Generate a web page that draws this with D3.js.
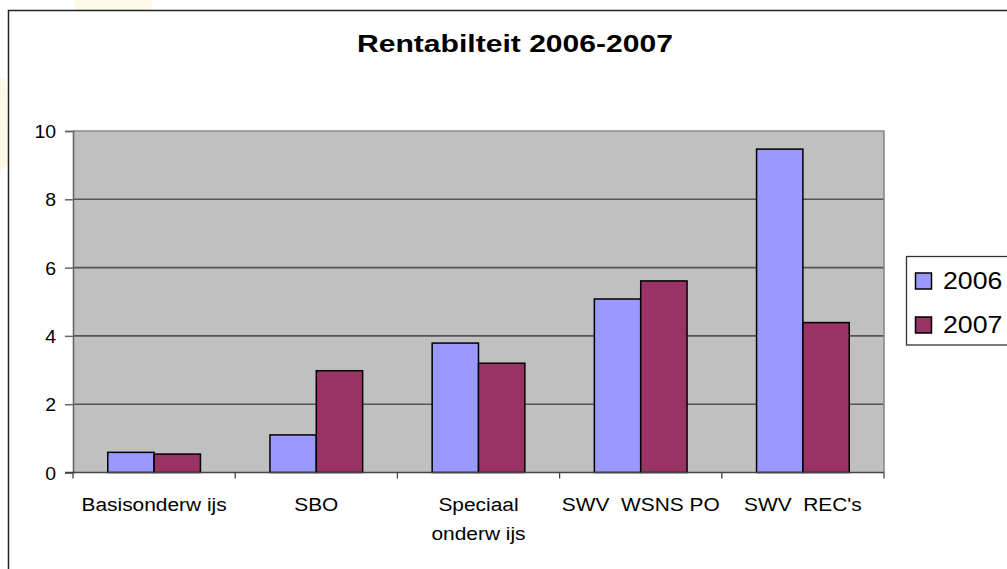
<!DOCTYPE html>
<html>
<head>
<meta charset="utf-8">
<script src="https://cdn.jsdelivr.net/npm/d3@7"></script>
<style>
  html, body { margin: 0; padding: 0; background: #fff; }
  svg { display: block; font-family: "Liberation Sans", Arial, sans-serif; }
</style>
</head>
<body>
<svg id="chart" width="1007" height="569"></svg>
<script>
const categories = ["Basisonderw ijs", "SBO", "Speciaal|onderw ijs", "SWV  WSNS PO", "SWV  REC's"];
const seriesNames = ["2006", "2007"];
const values2006 = [0.59, 1.1, 3.79, 5.08, 9.47];
const values2007 = [0.54, 2.98, 3.2, 5.61, 4.39];
const yTicks = [0, 2, 4, 6, 8, 10];
const title = "Rentabilteit 2006-2007";

const colors = { "2006": "#9999ff", "2007": "#993366" };
const seriesValues = { "2006": values2006, "2007": values2007 };

const svg = d3.select("#chart");

// faint background decorations outside the chart frame
svg.append("path").attr("d", "M73,0 L153,0 L150,11 L76,11 Z").attr("fill", "#fdf9e6");
svg.append("path").attr("d", "M0,78 L6,80 L9,165 L0,170 Z").attr("fill", "#fdf9e6");

// chart frame
svg.append("rect")
  .attr("x", 8.5).attr("y", 10.5).attr("width", 1100).attr("height", 600)
  .attr("fill", "#fff").attr("stroke", "#222").attr("stroke-width", 1.5);

const plot = { left: 73, right: 884, top: 131, bottom: 472.5 };

const x0 = d3.scaleBand().domain(categories).range([plot.left, plot.right]).paddingInner(0).paddingOuter(0);
const x1 = d3.scaleBand().domain(seriesNames).range([0, x0.bandwidth()]).paddingInner(0).paddingOuter(0.75);
const y = d3.scaleLinear().domain([0, 10]).range([plot.bottom, plot.top]);

// plot background
svg.append("rect")
  .attr("x", plot.left).attr("y", plot.top)
  .attr("width", plot.right - plot.left).attr("height", plot.bottom - plot.top)
  .attr("fill", "#c0c0c0");

// gridlines
svg.append("g").selectAll("line").data(yTicks.filter(d => d > 0 && d < 10)).join("line")
  .attr("x1", plot.left).attr("x2", plot.right)
  .attr("y1", d => y(d)).attr("y2", d => y(d))
  .attr("stroke", "#555").attr("stroke-width", 1.6);

// plot border top and right
svg.append("path")
  .attr("d", `M${plot.left},${plot.top} L${plot.right},${plot.top} L${plot.right},${plot.bottom}`)
  .attr("fill", "none").attr("stroke", "#8a8a8a").attr("stroke-width", 1.6);

// bars
const groups = svg.append("g").selectAll("g").data(categories).join("g")
  .attr("transform", d => `translate(${x0(d)},0)`);
groups.selectAll("rect")
  .data((d, i) => seriesNames.map(s => ({ s, v: seriesValues[s][i] })))
  .join("rect")
  .attr("x", d => x1(d.s))
  .attr("y", d => y(d.v))
  .attr("width", x1.bandwidth())
  .attr("height", d => y(0) - y(d.v))
  .attr("fill", d => colors[d.s])
  .attr("stroke", "#000").attr("stroke-width", 1.5);

// y axis
const yAxis = svg.append("g").attr("transform", `translate(${plot.left},0)`)
  .call(d3.axisLeft(y).tickValues(yTicks).tickSize(8).tickPadding(0).tickFormat(d3.format("d")));
yAxis.select(".domain").attr("stroke", "#666").attr("stroke-width", 1.6);
yAxis.selectAll(".tick line").attr("stroke", "#666").attr("stroke-width", 1.5);
yAxis.selectAll(".tick text").remove();
yAxis.selectAll(".tick").append("text")
  .attr("text-anchor", "end")
  .attr("transform", "translate(-17,6.5) scale(1.08,1)")
  .attr("fill", "#000").attr("font-size", 18)
  .attr("font-family", "Liberation Sans, Arial, sans-serif")
  .text(d => d);

// x axis
const xAxisG = svg.append("g").attr("transform", `translate(0,${plot.bottom})`);
xAxisG.append("line").attr("x1", plot.left - 8).attr("x2", plot.right)
  .attr("stroke", "#444").attr("stroke-width", 1.6);
const boundaries = categories.map(c => x0(c)).concat([plot.right]);
xAxisG.selectAll("line.tk").data(boundaries).join("line").attr("class", "tk")
  .attr("x1", d => d).attr("x2", d => d).attr("y1", 0).attr("y2", 6)
  .attr("stroke", "#444").attr("stroke-width", 1.3);

const catLabels = svg.append("g").selectAll("text").data(categories).join("text")
  .attr("transform", d => `translate(${x0(d) + x0.bandwidth() / 2},510.5) scale(1.1,1)`)
  .attr("text-anchor", "middle").attr("font-size", 19).attr("fill", "#000")
  .style("white-space", "pre");
catLabels.selectAll("tspan").data(d => d.split("|")).join("tspan")
  .attr("x", 0).attr("dy", (d, i) => i === 0 ? 0 : 29.5)
  .text(d => d);

// title
svg.append("text")
  .attr("x", 515).attr("y", 52)
  .attr("text-anchor", "middle")
  .attr("font-size", 23).attr("font-weight", "bold").attr("fill", "#000")
  .attr("textLength", 316).attr("lengthAdjust", "spacingAndGlyphs")
  .text(title);

// legend
const legend = svg.append("g");
legend.append("rect")
  .attr("x", 906.5).attr("y", 256.5).attr("width", 200).attr("height", 88.5)
  .attr("fill", "#fff").attr("stroke", "#333").attr("stroke-width", 1.3);
const items = legend.selectAll("g").data(seriesNames).join("g")
  .attr("transform", (d, i) => `translate(915,${272.5 + i * 44})`);
items.append("rect")
  .attr("x", 0.5).attr("y", 0.5).attr("width", 16).attr("height", 16)
  .attr("fill", d => colors[d]).attr("stroke", "#000").attr("stroke-width", 1.5);
items.append("text")
  .attr("transform", "translate(28,16.5) scale(1.16,1)")
  .attr("font-size", 23).attr("fill", "#000")
  .text(d => d);
</script>
</body>
</html>
